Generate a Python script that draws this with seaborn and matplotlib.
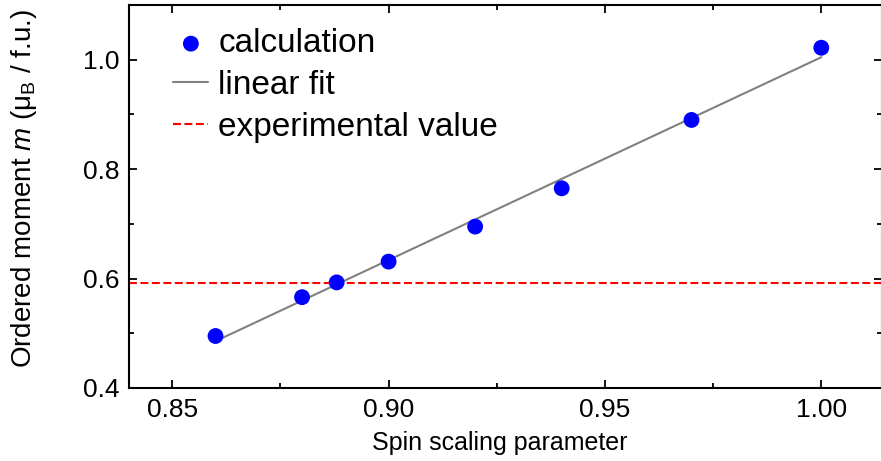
import numpy as np
import pandas as pd
import matplotlib
matplotlib.use("Agg")
import matplotlib.pyplot as plt
import seaborn as sns

# Data
spin_scaling = [0.86, 0.88, 0.888, 0.90, 0.92, 0.94, 0.97, 1.00]
ordered_moment = [0.495, 0.566, 0.593, 0.631, 0.695, 0.765, 0.890, 1.022]
experimental_value = 0.591
x_ticks = [0.85, 0.90, 0.95, 1.00]
y_ticks = [0.4, 0.6, 0.8, 1.0]

sns.set_theme(style="ticks")
plt.rcParams['font.family'] = ['Liberation Sans', 'DejaVu Sans']
plt.rcParams['mathtext.fontset'] = 'custom'
plt.rcParams['mathtext.rm'] = 'Liberation Sans'
plt.rcParams['mathtext.it'] = 'Liberation Sans:italic'
for k in ['text.color', 'axes.labelcolor', 'xtick.color', 'ytick.color', 'axes.edgecolor']:
    plt.rcParams[k] = 'black'

fig = plt.figure(figsize=(8.81, 4.61), dpi=100)
ax = fig.add_axes([0.1464, 0.1584, 0.8546, 0.8306])

df = pd.DataFrame({"x": spin_scaling, "y": ordered_moment})
slope, intercept = np.polyfit(spin_scaling, ordered_moment, 1)
fit_x = [min(spin_scaling), max(spin_scaling)]
fit_df = pd.DataFrame({"x": fit_x, "y": [slope * v + intercept for v in fit_x]})

sns.lineplot(data=fit_df, x="x", y="y", ax=ax, color="#808080", lw=1.5,
             label="linear fit", zorder=2)
ax.axhline(experimental_value, color="#ff0000", lw=1.5, ls=(0, (3.8, 1.7)),
           label="experimental value", zorder=1)
sns.scatterplot(data=df, x="x", y="y", ax=ax, color="#0000ff", s=130,
                edgecolor="none", label="calculation", zorder=3)

ax.set_xlim(0.84, 1.014)
ax.set_ylim(0.4, 1.1)
ax.set_xticks(x_ticks)
ax.set_xticklabels([f"{v:.2f}" for v in x_ticks])
ax.set_yticks(y_ticks)
ax.set_yticklabels([f"{v:.1f}" for v in y_ticks])
ax.set_xticks([0.875, 0.925, 0.975], minor=True)
ax.set_yticks([0.5, 0.7, 0.9], minor=True)
ax.tick_params(which="both", direction="in", top=True, right=True,
               labelsize=19, colors="black", width=1.3)
ax.tick_params(which="major", length=6, pad=7)
ax.tick_params(which="minor", length=3.5)
for s in ax.spines.values():
    s.set_linewidth(1.5)
    s.set_color("black")

ax.set_xlabel("Spin scaling parameter", fontsize=18)
ax.set_ylabel("Ordered moment $m$ (μ$_\\mathrm{B}$ / f.u.)", fontsize=20)
ax.xaxis.set_label_coords(0.493, -0.112)
ax.yaxis.set_label_coords(-0.12, 0.52)

handles, labels = ax.get_legend_handles_labels()
order = [labels.index("calculation"), labels.index("linear fit"), labels.index("experimental value")]
ax.legend([handles[i] for i in order], [labels[i] for i in order],
          loc="upper left", frameon=False, fontsize=24, handlelength=1.05,
          handletextpad=0.3, labelspacing=0.32, borderaxespad=0.3,
          bbox_to_anchor=(0.028, 1.0))

fig.savefig("out.png", dpi=100)
